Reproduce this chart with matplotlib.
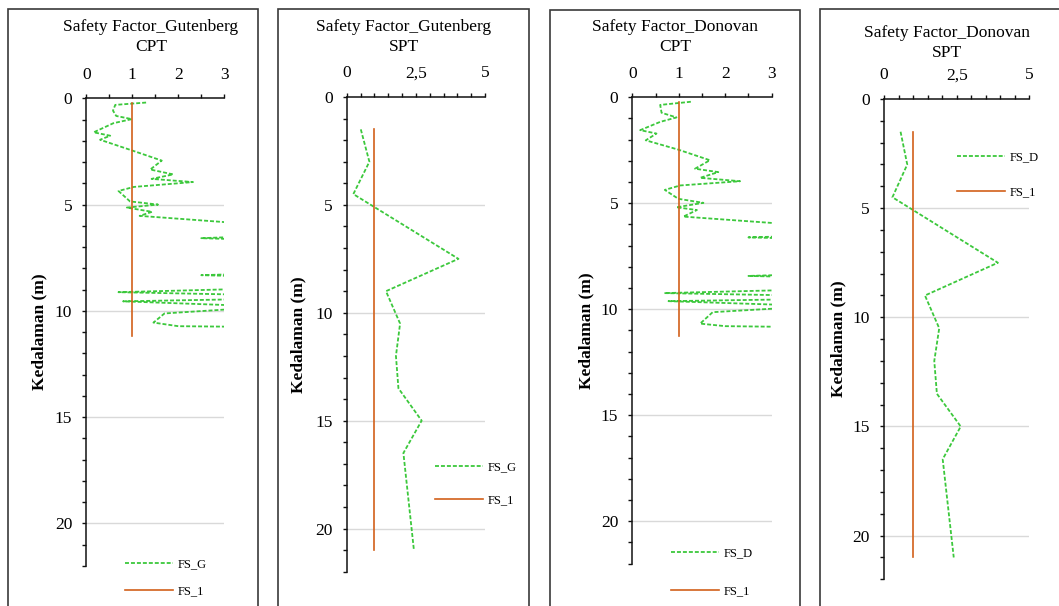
import matplotlib
matplotlib.use("Agg")
import matplotlib.pyplot as plt
from matplotlib.patches import Rectangle
from matplotlib.ticker import MultipleLocator, FuncFormatter

plt.rcParams['font.family'] = ['Liberation Serif', 'DejaVu Serif']

# CPT profile, Gutenberg method (values past 3 run off the axis)
gut_cpt_depth = [0.20, 0.31, 0.58, 0.83, 0.98, 1.17, 1.60, 1.76, 1.95, 2.45,
                 2.93, 3.35, 3.58, 3.79, 3.94, 4.17, 4.36, 4.85, 5.00, 5.14,
                 5.34, 5.53, 6.30, 6.58, 6.80, 8.10, 8.32, 8.50, 8.82, 9.12,
                 9.35, 9.55, 9.80, 10.12, 10.55, 10.72, 10.80]
gut_cpt_fs = [1.30, 0.63, 0.58, 0.65, 0.99, 0.59, 0.16, 0.52, 0.30, 0.99,
              1.64, 1.39, 1.89, 1.42, 2.32, 1.03, 0.70, 0.95, 1.56, 0.88,
              1.43, 1.16, 6.0, 2.50, 6.0, 6.0, 2.50, 6.0, 6.0, 0.70,
              6.0, 0.80, 4.0, 1.70, 1.46, 2.00, 6.0]

# CPT profile, Donovan method
don_cpt_depth = [0.21, 0.36, 0.73, 0.95, 1.16, 1.55, 1.71, 2.03, 2.47, 2.97,
                 3.37, 3.53, 3.80, 3.96, 4.16, 4.37, 4.79, 4.98, 5.19, 5.32,
                 5.63, 6.40, 6.61, 6.80, 8.20, 8.43, 8.60, 8.95, 9.24, 9.45,
                 9.62, 9.85, 10.14, 10.68, 10.80, 10.90]
don_cpt_fs = [1.26, 0.60, 0.63, 0.95, 0.60, 0.17, 0.52, 0.29, 0.99, 1.67,
              1.35, 1.85, 1.46, 2.32, 1.03, 0.70, 0.99, 1.53, 0.95, 1.39,
              1.10, 6.0, 2.50, 6.0, 6.0, 2.50, 6.0, 6.0, 0.69, 6.0,
              0.78, 4.0, 1.73, 1.46, 2.00, 6.0]

cpt_fs1_depth_g = [0.20, 11.20]
cpt_fs1_depth_d = [0.20, 11.28]
cpt_fs1 = [1.0, 1.0]

# SPT profiles
spt_depth = [1.5, 3.0, 4.5, 7.5, 9.0, 10.5, 12.0, 13.5, 15.0, 16.5, 21.0]
gut_spt_fs = [0.51, 0.82, 0.24, 4.04, 1.42, 1.93, 1.78, 1.87, 2.71, 2.05, 2.43]
don_spt_fs = [0.57, 0.80, 0.29, 3.92, 1.41, 1.90, 1.73, 1.82, 2.64, 2.02, 2.40]
spt_fs1_depth = [1.5, 21.0]
spt_fs1 = [1.0, 1.0]

W, H = 1059, 606
fig = plt.figure(figsize=(W / 100, H / 100), dpi=100)

GREEN = '#3cc83c'
ORANGE = '#d2601a'
TXT = 12.5


def px_axes(l, t, r, b):
    return fig.add_axes([l / W, 1 - b / H, (r - l) / W, (b - t) / H])


def frame(l, t, r):
    fig.patches.append(Rectangle((l / W, -0.1), (r - l) / W, 1.1 - t / H,
                                 transform=fig.transFigure, fill=False,
                                 edgecolor='#3a3a3a', lw=1.2))


def setup(ax, xmax, xmajor, xminor, comma=False):
    ax.set_xlim(0, xmax)
    ax.set_ylim(22, 0)
    ax.xaxis.tick_top()
    ax.xaxis.set_major_locator(MultipleLocator(xmajor))
    ax.xaxis.set_minor_locator(MultipleLocator(xminor))
    ax.yaxis.set_major_locator(MultipleLocator(5))
    ax.yaxis.set_minor_locator(MultipleLocator(1))
    if comma:
        ax.xaxis.set_major_formatter(FuncFormatter(
            lambda v, p: ('%g' % v).replace('.', ',')))
    for s in ('right', 'bottom'):
        ax.spines[s].set_visible(False)
    for s in ('left', 'top'):
        ax.spines[s].set_linewidth(1.1)
        ax.spines[s].set_color('#111111')
    ax.tick_params(which='both', direction='out', length=3.2, width=1.0,
                   color='#111111', labelsize=TXT)
    ax.tick_params(axis='x', pad=8)
    ax.tick_params(axis='y', pad=7)
    ax.grid(False)
    for d in (5, 10, 15, 20):
        ax.axhline(d, color='#d9d9d9', lw=1.0, zorder=0)


def draw(ax, depth, fs, f1_depth, f1, name):
    ax.plot(fs, depth, color=GREEN, lw=1.3, dashes=(2.2, 1.1), label=name)
    ax.plot(f1, f1_depth, color=ORANGE, lw=1.2, label='FS_1')


def add_legend(ax, x, y, spacing):
    ax.legend(loc='upper left', bbox_to_anchor=(x / W, 1 - y / H),
              bbox_transform=fig.transFigure, frameon=False, fontsize=9,
              borderpad=0, borderaxespad=0, handlelength=3.8,
              handletextpad=0.4, labelspacing=spacing)


panels = [
    # axes box, frame, title centre, title, ylabel x, legend
    dict(box=(86.3, 98.3, 224.3, 566), fr=(8.3, 9.3, 258.3), tx=151, ty=37,
         title='Safety Factor_Gutenberg\nCPT', yl=39, leg=(125, 558, 1.25),
         data=(gut_cpt_depth, gut_cpt_fs, cpt_fs1_depth_g, cpt_fs1, 'FS_G'),
         xs=(3, 1, 0.5, False)),
    dict(box=(346.7, 97, 485, 571.7), fr=(278.3, 9.3, 529.3), tx=404, ty=37,
         title='Safety Factor_Gutenberg\nSPT', yl=298, leg=(435, 461, 1.7),
         data=(spt_depth, gut_spt_fs, spt_fs1_depth, spt_fs1, 'FS_G'),
         xs=(5, 2.5, 0.5, True)),
    dict(box=(632.3, 97.3, 771.7, 563.5), fr=(550, 10, 800), tx=675, ty=37,
         title='Safety Factor_Donovan\nCPT', yl=586, leg=(671, 547, 2.1),
         data=(don_cpt_depth, don_cpt_fs, cpt_fs1_depth_d, cpt_fs1, 'FS_D'),
         xs=(3, 1, 0.5, False)),
    dict(box=(884, 99, 1029.3, 579.3), fr=(820, 9.3, 1062), tx=947, ty=43,
         title='Safety Factor_Donovan\nSPT', yl=838, leg=(957, 151, 1.85),
         data=(spt_depth, don_spt_fs, spt_fs1_depth, spt_fs1, 'FS_D'),
         xs=(5, 2.5, 0.5, True)),
]

for p in panels:
    frame(*p['fr'])
    ax = px_axes(*p['box'])
    xmax, xmaj, xmin, comma = p['xs']
    setup(ax, xmax, xmaj, xmin, comma)
    draw(ax, *p['data'])
    add_legend(ax, *p['leg'])
    fig.text(p['tx'] / W, 1 - p['ty'] / H, p['title'], ha='center',
             va='center', fontsize=TXT, linespacing=1.4)
    yc = (p['box'][1] + p['box'][3]) / 2
    fig.text(p['yl'] / W, 1 - yc / H, 'Kedalaman (m)', rotation=90,
             ha='center', va='center', fontsize=TXT, fontweight='bold')

fig.savefig('out.png', dpi=100)
